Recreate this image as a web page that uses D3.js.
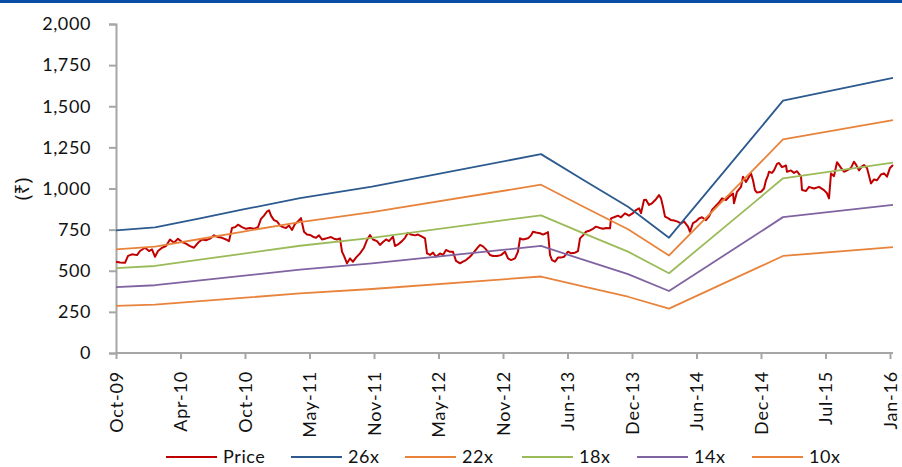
<!DOCTYPE html>
<html>
<head>
<meta charset="utf-8">
<script src="https://cdn.jsdelivr.net/npm/d3@7"></script>
<style>
  body { margin: 0; background: #fff; }
  svg { display: block; }
  text { font-family: Lato, "Noto Sans", "DejaVu Sans", sans-serif; fill: #111; }
</style>
</head>
<body>
<svg id="chart" width="902" height="467"></svg>
<script>
// ---- Category labels on the session axis (one label every 129 trading sessions)
const xTickLabels = ["Oct-09", "Apr-10", "Oct-10", "May-11", "Nov-11", "May-12", "Nov-12",
                     "Jun-13", "Dec-13", "Jun-14", "Dec-14", "Jul-15", "Jan-16"];
const sessionsPerLabel = 129;
const lastSession = 1554;

// ---- Value axis ticks (₹)
const yTicks = [0, 250, 500, 750, 1000, 1250, 1500, 1750, 2000];

// ---- Share price: [trading session, close ₹]
const price = [
  [0,555],[8,550],[18,548],[24,590],[32,600],[42,595],[48,620],[58,640],[66,620],[72,630],
  [78,585],[84,620],[92,640],[100,650],[108,690],[116,670],[124,695],[132,675],[140,665],[148,650],
  [156,640],[164,670],[172,690],[180,685],[188,695],[196,715],[204,705],[212,700],[220,690],[226,680],
  [232,760],[238,765],[244,780],[252,765],[260,755],[268,760],[276,755],[284,765],[290,815],[296,835],
  [302,860],[306,868],[310,835],[316,808],[322,800],[328,775],[334,765],[340,760],[346,775],[352,748],
  [358,785],[364,800],[370,820],[376,737],[382,721],[388,718],[394,707],[400,700],[406,715],[412,690],
  [418,695],[424,700],[430,705],[436,695],[442,690],[448,697],[452,616],[456,590],[462,545],[468,575],
  [474,555],[480,580],[488,606],[496,640],[502,687],[508,717],[514,690],[522,680],[528,657],[534,675],
  [540,690],[546,680],[554,707],[558,650],[564,660],[572,680],[578,700],[584,731],[590,720],[598,715],
  [604,720],[612,708],[618,697],[622,606],[628,596],[634,610],[640,585],[648,605],[654,596],[660,626],
  [668,615],[674,615],[680,560],[688,545],[694,555],[700,565],[708,585],[714,606],[722,636],[728,657],
  [734,648],[740,630],[748,596],[754,590],[762,590],[770,595],[778,616],[784,575],[790,565],[798,575],
  [804,616],[808,697],[814,690],[824,697],[830,715],[834,737],[840,732],[848,728],[854,720],[860,728],
  [864,735],[868,596],[872,565],[878,555],[884,580],[890,580],[896,585],[904,616],[910,606],[918,610],
  [924,620],[928,697],[934,715],[940,737],[948,745],[954,755],[960,768],[968,760],[974,755],[980,760],
  [988,758],[990,818],[996,825],[1004,835],[1010,825],[1018,849],[1026,835],[1034,850],[1040,869],[1046,880],
  [1050,850],[1056,930],[1060,932],[1066,900],[1072,910],[1080,935],[1086,960],[1090,940],[1094,889],[1098,829],
  [1104,820],[1110,808],[1116,805],[1122,800],[1130,788],[1136,800],[1144,768],[1148,737],[1154,790],[1160,800],
  [1166,818],[1172,825],[1180,808],[1186,830],[1192,869],[1200,895],[1206,915],[1212,940],[1220,930],[1226,950],
  [1234,970],[1236,910],[1242,980],[1250,1010],[1254,1072],[1260,1040],[1266,1072],[1270,1092],[1274,1050],[1278,990],
  [1282,975],[1290,980],[1296,1000],[1300,1050],[1304,1080],[1306,1102],[1312,1095],[1316,1110],[1322,1150],[1326,1155],
  [1332,1130],[1340,1140],[1342,1102],[1350,1110],[1356,1095],[1362,1105],[1370,1072],[1372,991],[1380,985],[1386,1010],
  [1396,1000],[1406,1010],[1416,990],[1422,971],[1426,940],[1430,1092],[1436,1075],[1442,1160],[1450,1125],[1456,1102],
  [1462,1110],[1470,1125],[1476,1163],[1480,1145],[1486,1110],[1492,1135],[1496,1143],[1502,1125],[1510,1031],[1516,1055],
  [1522,1050],[1530,1085],[1536,1092],[1542,1072],[1548,1125],[1554,1143]
];

// ---- P/E band lines: sessions where the band changes slope, and the band level there (₹)
const bandSessions = [0, 78, 168, 252, 368, 512, 850, 934, 1024, 1106, 1276, 1334, 1554];
const pe26 = [745, 764, 819, 871, 941, 1011, 1209, 1053, 889, 701, 1321, 1534, 1672];
const pe22 = [630, 647, 693, 737, 796, 856, 1023, 891, 752, 593, 1118, 1298, 1415];
const pe18 = [516, 529, 567, 603, 652, 700, 837, 729, 616, 485, 914, 1062, 1157];
const pe14 = [401, 412, 441, 469, 507, 545, 651, 567, 479, 377, 711, 826, 900];
const pe10 = [287, 294, 315, 335, 362, 389, 465, 405, 342, 270, 508, 590, 643];

const seriesNames = ["Price", "26x", "22x", "18x", "14x", "10x"];
const seriesColors = ["#C00000", "#2C5A8E", "#E8833C", "#9BBB59", "#8064A2", "#E8833C"];

// ---- Layout
const svg = d3.select("#chart");
const W = 902, H = 467;
const plot = { left: 116, right: 893, top: 24, bottom: 353 };
const axisColor = "#A6A6A6";
const fontSize = 18;

// header rule
svg.append("rect").attr("x", 0).attr("y", 0).attr("width", W).attr("height", 3)
  .attr("fill", "#0A4DA6");

const x = d3.scaleLinear().domain([0, lastSession]).range([plot.left, plot.right]);
const y = d3.scaleLinear().domain([0, 2000]).range([plot.bottom, plot.top]);

// ---- Y axis
const yAxis = d3.axisLeft(y).tickValues(yTicks).tickFormat(d3.format(",")).tickSize(7).tickPadding(18);
const gy = svg.append("g").attr("transform", `translate(${plot.left},0)`).call(yAxis);
gy.select(".domain").attr("stroke", axisColor).attr("stroke-width", 2);
gy.selectAll(".tick line").attr("stroke", axisColor).attr("stroke-width", 2);
gy.selectAll(".tick text").attr("font-size", fontSize).attr("fill", "#111")
  .style("font-family", "Lato, 'Noto Sans', sans-serif").attr("letter-spacing", "0.6px");

// ---- X axis (session axis with month labels)
const xTickVals = xTickLabels.map((_, i) => i * sessionsPerLabel);
const xAxis = d3.axisBottom(x).tickValues(xTickVals).tickFormat((d, i) => xTickLabels[i])
  .tickSize(6).tickSizeOuter(0);
const gx = svg.append("g").attr("transform", `translate(0,${plot.bottom})`).call(xAxis);
gx.select(".domain").attr("stroke", axisColor).attr("stroke-width", 2)
  .attr("d", `M${plot.left},0H${plot.right}`);
gx.selectAll(".tick line").attr("stroke", axisColor).attr("stroke-width", 2);
gx.selectAll(".tick text")
  .attr("font-size", fontSize).attr("fill", "#111")
  .style("font-family", "Lato, 'Noto Sans', sans-serif")
  .attr("letter-spacing", "0.8px")
  .attr("text-anchor", "end")
  .attr("transform", "translate(0,18) rotate(-90)")
  .attr("x", 0).attr("y", 0).attr("dy", "0.35em");

// ---- Y axis title
svg.append("text")
  .attr("transform", "translate(22,189) rotate(-90)")
  .attr("text-anchor", "middle").attr("dy", "0.35em")
  .attr("font-size", 19)
  .style("font-family", "'Noto Sans', 'DejaVu Sans', sans-serif")
  .text("(₹)");

// ---- Lines
const line = d3.line().x(d => x(d[0])).y(d => y(d[1]));
const bands = [pe26, pe22, pe18, pe14, pe10]
  .map(vals => vals.map((v, i) => [bandSessions[i], v]));
const allSeries = [price, ...bands];

svg.append("g").selectAll("path").data(allSeries).join("path")
  .attr("d", line)
  .attr("fill", "none")
  .attr("stroke", (d, i) => seriesColors[i])
  .attr("stroke-width", (d, i) => i === 0 ? 2 : 1.8)
  .attr("stroke-linejoin", "round");

// ---- Legend
const legendX = [166, 291, 405, 522, 637, 752];
const legendY = 457;
const lg = svg.append("g").selectAll("g").data(seriesNames).join("g")
  .attr("transform", (d, i) => `translate(${legendX[i]},${legendY})`);
lg.append("line").attr("x1", 0).attr("x2", 51).attr("y1", 0).attr("y2", 0)
  .attr("stroke", (d, i) => seriesColors[i]).attr("stroke-width", 1.8);
lg.append("text").attr("x", 57).attr("y", 0).attr("dy", "0.33em")
  .attr("font-size", fontSize).attr("letter-spacing", "0.6px")
  .text(d => d);
</script>
</body>
</html>
